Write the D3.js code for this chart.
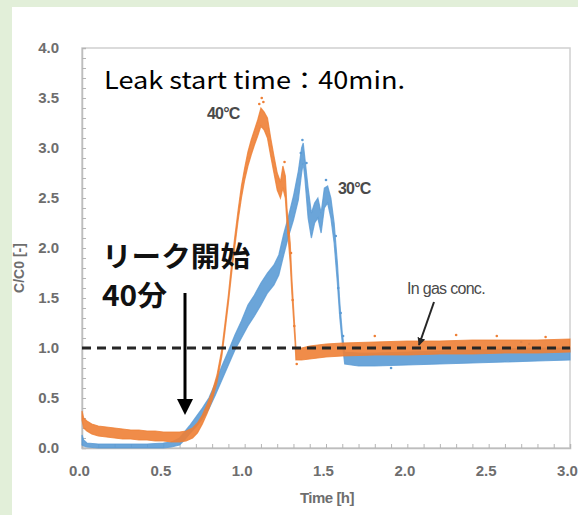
<!DOCTYPE html>
<html lang="ja">
<head>
<meta charset="utf-8">
<title>C/C0 vs time</title>
<script src="https://cdn.jsdelivr.net/npm/d3@7"></script>
<style>
  body { margin: 0; background: #e2efd9; }
  svg { display: block; }
</style>
</head>
<body>
<script>
// ---- data ----
// 40°C series (orange): time [h], lower and upper edge of the scatter band
var o_t  = [0.000,0.010,0.03,0.06,0.10,0.15,0.20,0.25,0.30,0.35,0.40,0.45,0.50,0.55,0.60,0.64,0.68,0.71,0.74,0.77,0.80,0.83,0.86,0.88,0.90,0.92,0.94,0.96,0.98,1.00,1.02,1.04,1.06,1.08,1.10,1.12,1.14,1.16,1.18,1.20,1.22,1.235,1.25,1.26,1.28,1.29,1.30,1.31,1.315,1.35,1.40,1.50,1.60,1.80,2.00,2.20,2.40,2.60,2.80,3.00];
var o_lo = [0.28,0.20,0.17,0.14,0.12,0.11,0.10,0.09,0.09,0.08,0.08,0.07,0.07,0.06,0.06,0.07,0.10,0.15,0.24,0.35,0.48,0.66,0.92,1.18,1.45,1.75,2.02,2.28,2.50,2.68,2.82,2.93,3.03,3.12,3.22,3.18,3.10,2.92,2.75,2.58,2.50,2.60,2.50,2.25,1.85,1.55,1.30,1.05,0.88,0.88,0.89,0.91,0.92,0.93,0.93,0.94,0.94,0.95,0.95,0.96];
var o_hi = [0.37,0.30,0.27,0.24,0.22,0.21,0.20,0.19,0.18,0.18,0.17,0.17,0.16,0.16,0.16,0.17,0.20,0.25,0.33,0.44,0.56,0.73,0.99,1.26,1.53,1.85,2.12,2.38,2.62,2.80,2.96,3.08,3.18,3.28,3.40,3.36,3.30,3.10,2.92,2.75,2.66,2.82,2.72,2.40,2.05,1.70,1.42,1.15,1.00,1.00,1.02,1.04,1.05,1.06,1.07,1.07,1.08,1.08,1.08,1.09];

// 30°C series (blue)
var b_t  = [0.000,0.010,0.03,0.10,0.20,0.30,0.40,0.50,0.55,0.60,0.63,0.66,0.70,0.74,0.78,0.82,0.86,0.90,0.94,0.98,1.02,1.06,1.10,1.14,1.18,1.21,1.24,1.27,1.30,1.33,1.35,1.36,1.37,1.39,1.41,1.43,1.45,1.47,1.49,1.51,1.53,1.55,1.57,1.585,1.60,1.615,1.70,1.80,2.00,2.20,2.40,2.60,2.80,3.00];
var b_lo = [0.03,0.02,0.01,0.00,0.00,0.00,0.00,0.00,0.01,0.03,0.08,0.14,0.21,0.29,0.39,0.53,0.68,0.83,0.98,1.10,1.22,1.32,1.43,1.55,1.63,1.73,1.93,2.12,2.28,2.48,2.75,2.85,2.70,2.30,2.10,2.25,2.30,2.15,2.40,2.45,2.30,2.05,1.65,1.30,1.05,0.84,0.82,0.82,0.83,0.84,0.85,0.86,0.87,0.88];
var b_hi = [0.13,0.08,0.05,0.04,0.04,0.04,0.04,0.05,0.06,0.10,0.16,0.22,0.31,0.40,0.50,0.65,0.82,0.97,1.13,1.27,1.43,1.53,1.65,1.75,1.83,1.93,2.14,2.32,2.52,2.77,3.00,3.05,2.90,2.60,2.35,2.45,2.50,2.35,2.60,2.62,2.50,2.25,1.85,1.45,1.15,0.96,0.95,0.95,0.96,0.97,0.98,0.99,1.00,1.00];

// loose single points away from the bands
var o_dots = [[1.105,3.50],[1.11,3.60],[1.115,3.46],[1.09,3.44],[1.245,2.86],[1.27,2.15],[1.285,1.95],[1.295,1.48],[1.305,1.22],[1.32,0.84],[1.8,1.12],[2.3,1.13],[2.55,1.12],[2.85,1.11]];
var b_dots = [[1.355,3.08],[1.345,2.95],[1.38,2.85],[1.50,2.68],[1.56,2.12],[1.575,1.60],[1.59,1.35],[1.605,1.12],[1.605,1.02],[2.7,1.06],[2.75,1.04],[1.9,0.80]];

var yTicks = [0.0,0.5,1.0,1.5,2.0,2.5,3.0,3.5,4.0];
var xTicks = [0.0,0.5,1.0,1.5,2.0,2.5,3.0];
var refLevel = 1.0; // In gas conc.

var width = 578, height = 515;
var orange = "#ee7f35", blue = "#5b9bd5";

var svg = d3.select("body").append("svg")
    .attr("width", width)
    .attr("height", height);

// green frame and white panel
svg.append("rect").attr("width", width).attr("height", height).attr("fill", "#e2efd9");
svg.append("rect").attr("x", 12).attr("y", 7).attr("width", width - 12).attr("height", height - 7).attr("fill", "#fff");

var x = d3.scaleLinear().domain([0, 3]).range([82, 570]);
var y = d3.scaleLinear().domain([0, 4]).range([448, 48]);

// plot frame
svg.append("rect")
    .attr("x", x(0)).attr("y", y(4))
    .attr("width", x(3) - x(0)).attr("height", y(0) - y(4))
    .attr("fill", "none").attr("stroke", "#d0d0d0").attr("stroke-width", 1.5);

// minor ticks, pointing inward
var minorY = d3.range(0, 41).map(function(i) { return i / 10; });
var minorX = d3.range(0, 31).map(function(i) { return i / 10; });
var gmy = svg.append("g").attr("transform", "translate(" + x(0) + ",0)")
    .call(d3.axisLeft(y).tickValues(minorY).tickSize(-4).tickFormat(""));
var gmx = svg.append("g").attr("transform", "translate(0," + y(0) + ")")
    .call(d3.axisBottom(x).tickValues(minorX).tickSize(-4).tickFormat(""));
[gmy, gmx].forEach(function(g) {
  g.select(".domain").attr("stroke", "#bdbdbd").attr("stroke-width", 1.5);
  g.selectAll(".tick line").attr("stroke", "#b5b5b5");
});

// tick labels
var gy = svg.append("g").attr("transform", "translate(" + x(0) + ",0)")
    .call(d3.axisLeft(y).tickValues(yTicks).tickSize(0).tickPadding(23).tickFormat(d3.format(".1f")));
var gx = svg.append("g").attr("transform", "translate(0," + y(0) + ")")
    .call(d3.axisBottom(x).tickValues(xTicks).tickSize(0).tickPadding(17).tickFormat(d3.format(".1f")));
[gy, gx].forEach(function(g) {
  g.select(".domain").remove();
  g.selectAll("text")
    .attr("font-family", "Liberation Sans, Arial, sans-serif")
    .attr("font-size", "15px")
    .attr("font-weight", "bold")
    .attr("fill", "#6e6e6e");
});
gx.selectAll("text").attr("dx", -3);

svg.append("text")
    .attr("x", 327).attr("y", 503)
    .attr("text-anchor", "middle")
    .attr("font-family", "Liberation Sans, Arial, sans-serif")
    .attr("font-size", "15px").attr("font-weight", "bold").attr("fill", "#6e6e6e")
    .attr("letter-spacing", "-0.5")
    .text("Time [h]");

svg.append("text")
    .attr("transform", "translate(24,268) rotate(-90)")
    .attr("text-anchor", "middle")
    .attr("font-family", "Liberation Sans, Arial, sans-serif")
    .attr("font-size", "14px").attr("font-weight", "bold").attr("fill", "#6e6e6e")
    .text("C/C0 [-]");

// series bands
function band(t, lo, hi) {
  return t.map(function(d, i) { return { t: d, lo: lo[i], hi: hi[i] }; });
}
var area = d3.area()
    .x(function(d) { return x(d.t); })
    .y0(function(d) { return y(d.lo); })
    .y1(function(d) { return y(d.hi); });

function drawSeries(data, dots, color) {
  svg.append("path").datum(data)
    .attr("d", area)
    .attr("fill", color).attr("fill-opacity", 0.9)
    .attr("stroke", color).attr("stroke-width", 1.2).attr("stroke-opacity", 0.8);
  svg.append("g").selectAll("circle").data(dots).enter()
    .append("circle")
    .attr("cx", function(d) { return x(d[0]); })
    .attr("cy", function(d) { return y(d[1]); })
    .attr("r", 1.3)
    .attr("fill", color);
}
drawSeries(band(b_t, b_lo, b_hi), b_dots, blue);
drawSeries(band(o_t, o_lo, o_hi), o_dots, orange);

// In gas conc. reference line
svg.append("line")
    .attr("x1", x(0)).attr("x2", x(3))
    .attr("y1", y(refLevel)).attr("y2", y(refLevel))
    .attr("stroke", "#262626").attr("stroke-width", 2.8)
    .attr("stroke-dasharray", "9,6");

// annotations
var ann = svg.append("g").attr("font-family", "Liberation Sans, Arial, sans-serif").attr("fill", "#4a4a4a");
ann.append("text").attr("x", 207).attr("y", 119).attr("font-size", "16px").attr("font-weight", "bold").attr("letter-spacing", "-0.8").text("40°C");
ann.append("text").attr("x", 338).attr("y", 194).attr("font-size", "16px").attr("font-weight", "bold").attr("letter-spacing", "-0.8").text("30°C");
ann.append("text").attr("x", 407).attr("y", 294).attr("font-size", "16px").attr("letter-spacing", "-0.7").text("In gas conc.");

var defs = svg.append("defs");
defs.append("marker").attr("id", "head-small")
    .attr("viewBox", "0 0 10 10").attr("refX", 9).attr("refY", 5)
    .attr("markerWidth", 4).attr("markerHeight", 4).attr("orient", "auto")
  .append("path").attr("d", "M0,0L10,5L0,10Z").attr("fill", "#262626");

svg.append("line")
    .attr("x1", 434).attr("y1", 302).attr("x2", 419).attr("y2", 345)
    .attr("stroke", "#262626").attr("stroke-width", 2)
    .attr("marker-end", "url(#head-small)");

svg.append("text")
    .attr("x", 104).attr("y", 89)
    .attr("font-family", "Noto Sans CJK JP, Noto Sans, sans-serif")
    .attr("font-size", "24px").attr("fill", "#000")
    .attr("textLength", 301).attr("lengthAdjust", "spacingAndGlyphs")
    .text("Leak start time：40min.");

var jp = svg.append("g")
    .attr("font-family", "Noto Sans CJK JP, sans-serif")
    .attr("font-weight", "bold").attr("font-size", "28px").attr("fill", "#111");
jp.append("text").attr("x", 102).attr("y", 267)
    .attr("textLength", 148).attr("lengthAdjust", "spacingAndGlyphs").text("リーク開始");
jp.append("text").attr("x", 102).attr("y", 306)
    .attr("textLength", 65).attr("lengthAdjust", "spacingAndGlyphs").text("40分");

// leak start arrow
svg.append("line")
    .attr("x1", 185).attr("y1", 293).attr("x2", 185).attr("y2", 402)
    .attr("stroke", "#000").attr("stroke-width", 3);
svg.append("path")
    .attr("d", d3.line()([[177, 399], [193, 399], [185, 415]]) + "Z")
    .attr("fill", "#000");
</script>
</body>
</html>
